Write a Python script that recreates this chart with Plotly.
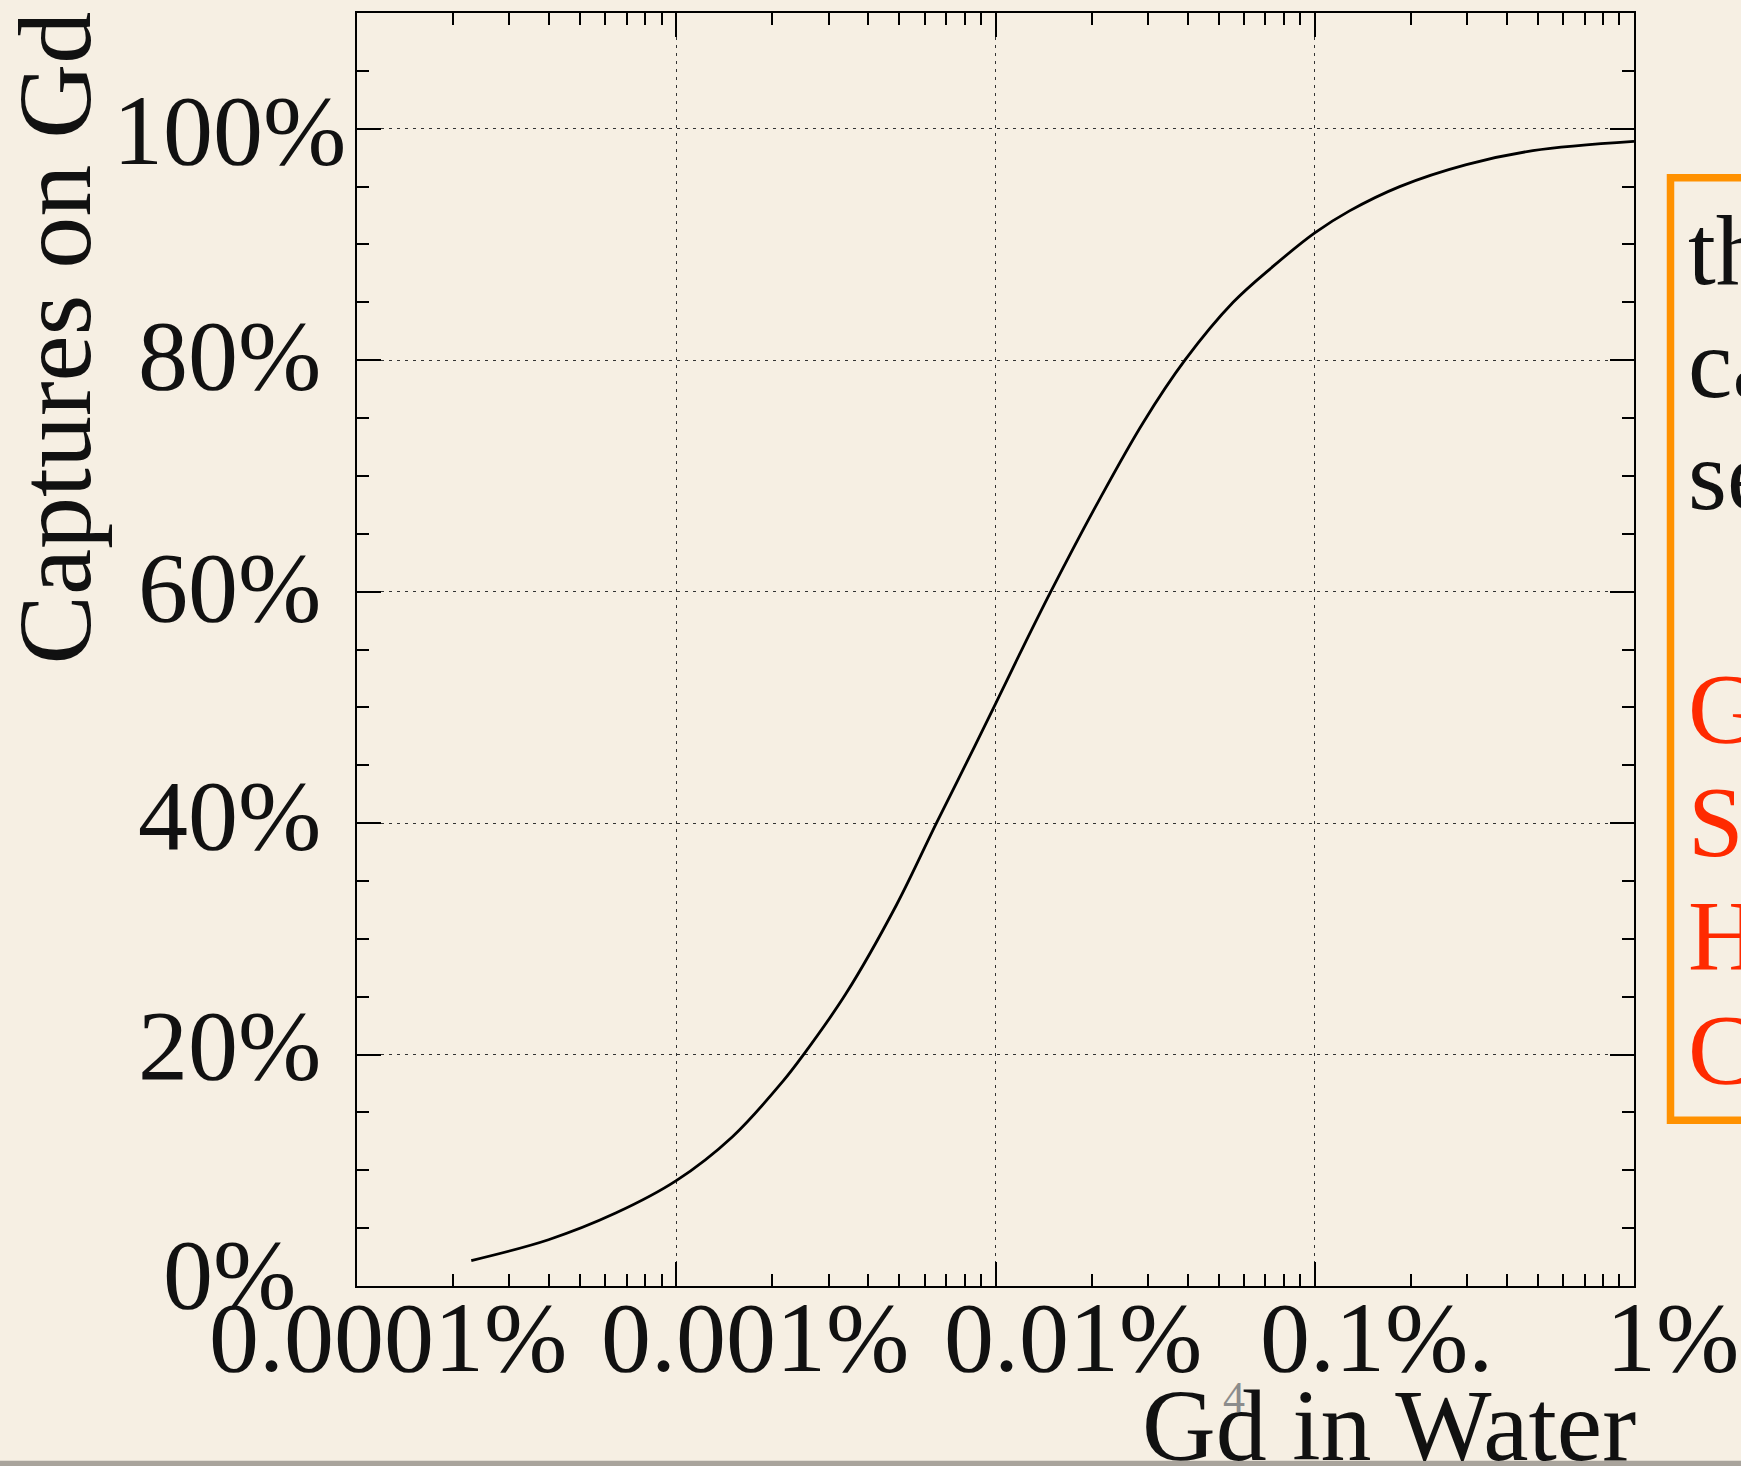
import numpy as np
import plotly.graph_objects as go

# Gd concentration in water (%), and fraction of neutron captures on Gd (%)
gd_concentration = [2.28e-4, 3.98e-4, 6.46e-4, 1.0e-3, 1.50e-3, 2.16e-3, 2.49e-3,
                    3.39e-3, 4.89e-3, 6.53e-3, 8.11e-3, 1.0e-2, 1.19e-2, 1.49e-2,
                    2.12e-2, 2.90e-2, 3.92e-2, 5.55e-2, 7.40e-2, 0.100, 0.1285,
                    0.1845, 0.2985, 0.482, 1.0]
captures_on_gd = [2.2, 4.0, 6.3, 9.1, 12.9, 17.7, 19.9,
                  25.2, 32.9, 40.0, 45.2, 50.3, 54.6, 60.0,
                  68.0, 74.6, 80.0, 85.0, 88.1, 91.0, 92.9,
                  95.0, 96.9, 98.1, 98.9]

x_tick_values = [1e-4, 1e-3, 1e-2, 1e-1, 1.0]
x_tick_labels = ["0.0001%", "0.001%", "0.01%", "0.1%.", "1%"]
y_tick_values = [0, 20, 40, 60, 80, 100]
y_tick_labels = ["0%", "20%", "40%", "60%", "80%", "100%"]

box_lines = ["th", "ca", "se", "", "G", "S", "H", "C"]
box_line_colors = ["#111111", "#111111", "#111111", "#111111",
                   "#ff2a00", "#ff2a00", "#ff2a00", "#ff2a00"]

# ---- layout geometry (pixels) ----
FIG_W, FIG_H = 1741, 1466
L, R, T, B = 357, 107, 11, 180
PW, PH = FIG_W - L - R, FIG_H - T - B

def px_x(px):
    return (px - L) / PW

def px_y(py):
    return (FIG_H - B - py) / PH

BG = "#f6efe3"
SERIF = "Liberation Serif, Times New Roman, serif"
GRID = "#333333"

fig = go.Figure()
fig.add_trace(go.Scatter(
    x=gd_concentration, y=captures_on_gd, mode="lines",
    line=dict(color="black", width=2.8, shape="spline", smoothing=1.0),
    hoverinfo="skip", showlegend=False,
))

minor_x = [m * 10.0 ** e for e in range(-4, 0) for m in range(2, 10)]

fig.update_xaxes(
    type="log", range=[-4, 0],
    tickvals=x_tick_values, showticklabels=False,
    ticks="inside", ticklen=24, tickwidth=1.5, tickcolor="black",
    minor=dict(tickvals=minor_x, ticks="inside", ticklen=12, tickwidth=1.5,
               tickcolor="black", showgrid=False),
    showline=True, linecolor="black", linewidth=2, mirror="ticks",
    showgrid=True, gridcolor=GRID, gridwidth=1, griddash="3px,5px",
    zeroline=False,
)
fig.update_yaxes(
    range=[0, 110], tickvals=y_tick_values, showticklabels=False,
    ticks="inside", ticklen=24, tickwidth=1.5, tickcolor="black",
    minor=dict(dtick=5, tick0=0, ticks="inside", ticklen=12, tickwidth=1.5,
               tickcolor="black", showgrid=False),
    showline=True, linecolor="black", linewidth=2, mirror="ticks",
    showgrid=True, gridcolor=GRID, gridwidth=1, griddash="3px,5px",
    zeroline=False,
)

annotations = []

# y tick labels, centred in the left gutter
y_label_lift = [12, 9, 8, 4, 5, -2]
for v, lab, lift in zip(y_tick_values, y_tick_labels, y_label_lift):
    annotations.append(dict(
        text=lab, xref="paper", x=px_x(229), yref="y", y=v,
        xanchor="center", yanchor="middle", showarrow=False, yshift=lift,
        font=dict(family=SERIF, size=100, color="#111111"),
    ))

# x tick labels
x_label_shift = [-150, -77, -54, -57, -30]
for v, lab, dx in zip(x_tick_values, x_tick_labels, x_label_shift):
    annotations.append(dict(
        text=lab, xref="x", x=np.log10(v), yref="paper", y=0,
        xanchor="left", yanchor="middle", xshift=dx, yshift=-51,
        showarrow=False, font=dict(family=SERIF, size=100, color="#111111"),
    ))

# axis titles
annotations.append(dict(
    text="Captures on Gd", xref="paper", x=px_x(54), yref="paper", y=px_y(337),
    xanchor="center", yanchor="middle", textangle=-90, showarrow=False,
    font=dict(family=SERIF, size=104, color="#111111"),
))
annotations.append(dict(
    text="Gd in Water", xref="paper", x=1, yref="paper", y=0,
    xanchor="right", yanchor="middle", xshift=4, yshift=-139, showarrow=False,
    font=dict(family=SERIF, size=102, color="#111111"),
))

# page number
annotations.append(dict(
    text="4", xref="paper", x=px_x(1234), yref="paper", y=px_y(1398),
    xanchor="center", yanchor="middle", showarrow=False,
    font=dict(family=SERIF, size=44, color="#8c8c8c"),
))

# side note text inside the orange frame
baselines = [283, 396, 508, 625, 742, 855, 969, 1083]
for line, col, base in zip(box_lines, box_line_colors, baselines):
    if not line:
        continue
    annotations.append(dict(
        text=line, xref="paper", x=px_x(1686), yref="paper", y=px_y(base - 34),
        xanchor="left", yanchor="middle", showarrow=False,
        font=dict(family=SERIF, size=100, color=col),
    ))

shapes = [
    # orange frame around the side note
    dict(type="rect", xref="paper", yref="paper",
         x0=px_x(1670.5), x1=px_x(1800), y0=px_y(1120), y1=px_y(176),
         line=dict(color="#ff9100", width=7.5), fillcolor="rgba(0,0,0,0)",
         layer="above"),
    # slide bottom edge
    dict(type="rect", xref="paper", yref="paper",
         x0=px_x(-10), x1=px_x(1760), y0=px_y(1470), y1=px_y(1461),
         line=dict(width=0), fillcolor="#a9a49c", layer="above"),
]

fig.update_layout(
    width=FIG_W, height=FIG_H,
    margin=dict(l=L, r=R, t=T, b=B, pad=0),
    paper_bgcolor=BG, plot_bgcolor=BG,
    annotations=annotations, shapes=shapes,
    showlegend=False,
)

fig.write_html("out.html")
